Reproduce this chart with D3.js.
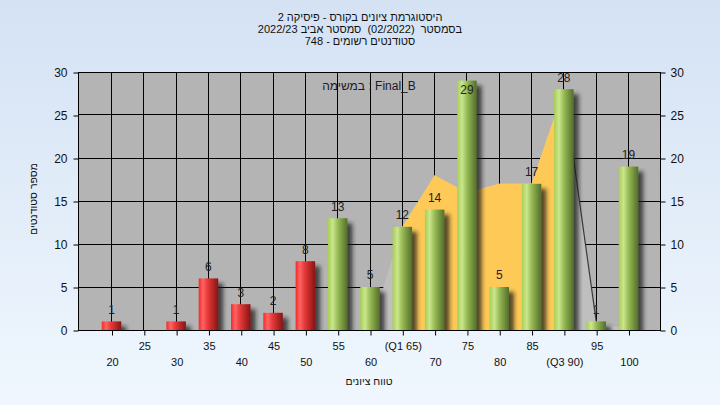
<!DOCTYPE html>
<html><head><meta charset="utf-8">
<script src="https://cdn.jsdelivr.net/npm/d3@7"></script>
<style>html,body{margin:0;padding:0;overflow:hidden;background:#fff} svg{display:block} .pre{white-space:pre}</style>
</head><body>
<svg id="c" width="720" height="405"></svg>
<script>
// ---- data ----
const categories = [20,25,30,35,40,45,50,55,60,65,70,75,80,85,90,95,100];
const counts     = [1,0,1,6,3,2,8,13,5,12,14,29,5,17,28,1,19];
const areaValues = [0,0,0,0,0,0,0,0,0,12,18,16,17,17,28,1,0];
const tickLabels = ["20","25","30","35","40","45","50","55","60","(Q1 65)","70","75","80","85","(Q3 90)","95","100"];
const yTicks = [0,5,10,15,20,25,30];
const q1 = 65, q3 = 90, passGrade = 55;
const titleLines = ["היסטוגרמת ציונים בקורס - פיסיקה 2", "בסמסטר  (02/2022)  סמסטר אביב 2022/23", "סטודנטים רשומים - 748"];
const subTitle = "במשימה : Final_B";
const xTitle = "טווח ציונים";
const yTitle = "מספר סטודנטים";

// ---- setup ----
const W = 720, H = 405;
const P = {l: 78, r: 660, t: 72, b: 330};
const FONT = "'Liberation Sans', 'DejaVu Sans', Arial, sans-serif";

const svg = d3.select("#c");
const defs = svg.append("defs");

const bg = defs.append("linearGradient").attr("id","bg").attr("x1",0).attr("y1",0).attr("x2",0).attr("y2",1);
bg.append("stop").attr("offset","0%").attr("stop-color","#d4e2f4");
bg.append("stop").attr("offset","100%").attr("stop-color","#f0f7fe");

function hGrad(id, stops){
  const g = defs.append("linearGradient").attr("id",id).attr("x1",0).attr("y1",0).attr("x2",1).attr("y2",0);
  stops.forEach(s => g.append("stop").attr("offset", s[0]).attr("stop-color", s[1]));
}
hGrad("gRed",   [["0%","#f42a2a"],["22%","#ff6464"],["45%","#e83a3a"],["100%","#861515"]]);
hGrad("gGreen", [["0%","#a6cf52"],["25%","#cbe68e"],["50%","#98bb55"],["100%","#526e2a"]]);

const f = defs.append("filter").attr("id","sh").attr("x","-30%").attr("y","-10%").attr("width","200%").attr("height","130%");
f.append("feDropShadow").attr("dx",5).attr("dy",5).attr("stdDeviation",2)
  .attr("flood-color","#1e1e1e").attr("flood-opacity",0.75);

defs.append("clipPath").attr("id","plotClip").append("rect")
  .attr("x",P.l).attr("y",P.t).attr("width",P.r-P.l).attr("height",P.b-P.t);

const x = d3.scaleLinear().domain([15,105]).range([79.2,660.8]);
const y = d3.scaleLinear().domain([0,30]).range([P.b, P.t]);

defs.append("clipPath").attr("id","iqrClip").append("rect")
  .attr("x",x(q1)).attr("y",P.t).attr("width",x(q3)-x(q1)).attr("height",P.b-P.t);

svg.append("rect").attr("width",W).attr("height",H).attr("fill","url(#bg)");

// plot background
svg.append("rect").attr("x",P.l).attr("y",P.t).attr("width",P.r-P.l).attr("height",P.b-P.t).attr("fill","#b4b4b4");

// grid
const px = v => Math.floor(v) + 0.5;
const grid = svg.append("g").attr("stroke","#000").attr("stroke-width",1);
grid.selectAll(".vg").data(categories).join("line")
  .attr("x1",d=>px(x(d))).attr("x2",d=>px(x(d))).attr("y1",P.t).attr("y2",P.b);
grid.selectAll(".hg").data(yTicks).join("line")
  .attr("x1",P.l).attr("x2",P.r).attr("y1",d=>px(y(d))).attr("y2",d=>px(y(d)));

// area series
const areaData = categories.map((c,i)=>({c, v: areaValues[i]}));
const area = d3.area().x(d=>x(d.c)).y0(y(0)).y1(d=>y(d.v));
const ag = svg.append("g").attr("clip-path","url(#plotClip)");
ag.append("path").attr("d", area(areaData)).attr("fill","#bfbfbf");
ag.append("path").attr("d", area(areaData)).attr("fill","#ffc957").attr("clip-path","url(#iqrClip)");
const edge = areaData.filter(d => d.c >= q3 && d.v > 0);
ag.append("path").attr("d", d3.line().x(d=>x(d.c)).y(d=>y(d.v))(edge))
  .attr("fill","none").attr("stroke","#3a3a3a").attr("stroke-width",1.2);

// plot border
svg.append("rect").attr("x",P.l+0.5).attr("y",P.t+0.5).attr("width",P.r-P.l).attr("height",P.b-P.t)
  .attr("fill","none").attr("stroke","#000");

// bars
const bw = 19.5;
const barData = categories.map((c,i)=>({c, v: counts[i]}));
const bg2 = svg.append("g").attr("clip-path","url(#plotClip)");
bg2.selectAll("rect").data(barData.filter(d=>d.v>0)).join("rect")
  .attr("x",d=>x(d.c)-bw/2).attr("width",bw)
  .attr("y",d=>y(d.v)).attr("height",d=>y(0)-y(d.v))
  .attr("fill",d=> d.c < passGrade ? "url(#gRed)" : "url(#gGreen)")
  .attr("filter","url(#sh)");

// value labels
svg.append("g").attr("font-family",FONT).attr("font-size",12).attr("fill","#222").attr("text-anchor","middle")
  .selectAll("text").data(barData.filter(d=>d.v>0)).join("text")
  .attr("x",d=>x(d.c))
  .attr("y",d=> (y(d.v) - 18 < P.t - 2) ? y(d.v) + 13.5 : y(d.v) - 7.7)
  .text(d=>d.v);

// axes
function styleAxis(g){
  g.select(".domain").remove();
  g.selectAll(".tick line").attr("stroke","#000");
  g.selectAll(".tick text").attr("fill","#111").attr("font-family",FONT);
}
svg.append("g").attr("transform",`translate(${P.l+0.5},0.5)`)
  .call(d3.axisLeft(y).tickValues(yTicks).tickSize(5).tickPadding(6))
  .attr("font-size",12).call(styleAxis);
svg.append("g").attr("transform",`translate(${P.r+0.5},0.5)`)
  .call(d3.axisRight(y).tickValues(yTicks).tickSize(5).tickPadding(5))
  .attr("font-size",12).call(styleAxis);

// bottom ticks, two alternating label rows
const labelOf = c => tickLabels[categories.indexOf(c)];
const oddCats = categories.filter((c,i)=>i%2===1);
const evenCats = categories.filter((c,i)=>i%2===0);
svg.append("g").attr("transform",`translate(0.5,${P.b+0.5})`)
  .call(d3.axisBottom(x).tickValues(oddCats).tickSize(5).tickPadding(7).tickFormat(labelOf))
  .attr("font-size",11).call(styleAxis);
svg.append("g").attr("transform",`translate(0.5,${P.b+0.5})`)
  .call(d3.axisBottom(x).tickValues(evenCats).tickSize(5).tickPadding(23).tickFormat(labelOf))
  .attr("font-size",11).call(styleAxis);

// subtitle in plot
svg.append("text").attr("x",(P.l+P.r)/2).attr("y",89.5).attr("text-anchor","middle")
  .attr("font-family",FONT).attr("font-size",12).attr("fill","#1a1a2a").text(subTitle);

// title
svg.append("g").attr("font-family",FONT).attr("font-size",11).attr("fill","#111").attr("text-anchor","middle")
  .selectAll("text").data(titleLines).join("text").attr("class","pre")
  .attr("x",360).attr("y",(d,i)=>20.5 + i*12)
  .text(d=>d);

// axis titles
svg.append("text").attr("x",(P.l+P.r)/2).attr("y",385).attr("text-anchor","middle")
  .attr("font-family",FONT).attr("font-size",10.5).attr("fill","#111").text(xTitle);
svg.append("text").attr("transform","translate(33,199) rotate(-90)").attr("text-anchor","middle").attr("dy","0.35em")
  .attr("font-family",FONT).attr("font-size",10.5).attr("fill","#111").text(yTitle);
</script>
</body></html>
